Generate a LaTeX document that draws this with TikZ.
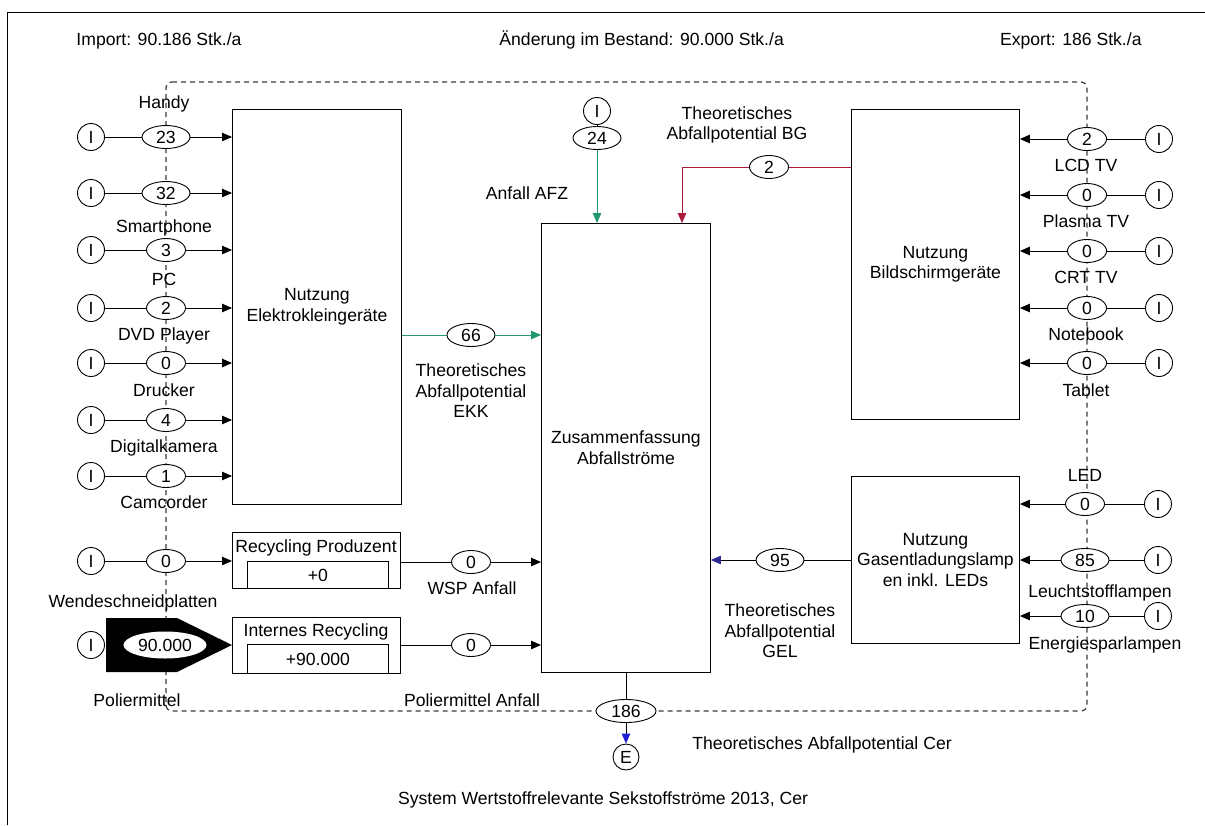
\documentclass[tikz,border=0pt]{standalone}
\usepackage{fontspec}
\setmainfont{Liberation Sans}
\usetikzlibrary{arrows.meta,shapes.geometric}

\definecolor{afzgreen}{RGB}{34,150,108}
\definecolor{bgred}{RGB}{172,26,58}
\definecolor{gelblue}{RGB}{40,40,150}
\definecolor{outblue}{RGB}{30,30,210}
\definecolor{boundgray}{RGB}{60,60,60}

\tikzset{
  ibox/.style={draw, circle, fill=white, minimum size=27, inner sep=0},
  val/.style={draw, ellipse, fill=white, inner sep=1.5, minimum height=23, minimum width=#1},
  val/.default=39,
  procbox/.style={draw, rectangle, fill=white, inner sep=0, anchor=north west, align=center},
  lbl/.style={inner sep=0, text height=12.6, text depth=3.7},
  mlbl/.style={inner sep=0, align=center},
  flow/.style={-{Triangle[length=10,width=8.5]}},
  bound/.style={draw=boundgray, line width=1.2, dash pattern=on 5 off 4, rounded corners=6},
}

\begin{document}
\begin{tikzpicture}[x=1pt, y=-1pt, line width=0.9, font=\fontsize{17.6}{20.5}\selectfont]
\useasboundingbox (0,0) rectangle (1205,825);

% page frame
\draw (7,825) -- (7,12) -- (1205,12);

% headline figures
\node[lbl, anchor=west] (imp) at (76,41) {Import: 90.186 Stk./a};
\node[lbl, anchor=west] (bestand) at (499,41) {Änderung im Bestand: 90.000 Stk./a};
\node[lbl, anchor=east] (exp) at (1142,41) {Export: 186 Stk./a};

% system boundary
\draw[bound] (166,82) -- (1087,82) -- (1087,711) -- (166,711) -- cycle;

% processes
\node[procbox, minimum width=169, minimum height=395] (elek) at (232,109) {Nutzung\\Elektrokleingeräte};
\node[procbox, minimum width=169, minimum height=449] (zus) at (541,223) {Zusammenfassung\\Abfallströme};
\node[procbox, minimum width=168, minimum height=310] (bild) at (851,109) {Nutzung\\Bildschirmgeräte};
\node[procbox, minimum width=168, minimum height=167] (gel) at (851,476) {Nutzung\\Gasentladungslamp\\en inkl. LEDs};

% recycling processes with stock
\node[procbox, minimum width=168, minimum height=56] (recp) at (232,532) {};
\node[lbl] (recpt) at (316,548) {Recycling Produzent};
\node[procbox, minimum width=141, minimum height=27] (recps) at (247,561) {+0};
\node[procbox, minimum width=168, minimum height=56] (reci) at (232,617) {};
\node[lbl] (recit) at (316,632) {Internes Recycling};
\node[procbox, minimum width=141, minimum height=29] (recis) at (247,644) {+90.000};

% imports into Elektrokleingeräte
\foreach \n/\y/\v/\w in {1/137/23/48, 2/193/32/48, 3/250/3/39, 4/308/2/39, 5/363/0/39, 6/420/4/39, 7/476/1/39} {
  \node[ibox] (li\n) at (91,\y) {I};
  \node[val=\w] (lv\n) at (166,\y) {\v};
  \draw (li\n) -- (lv\n);
  \draw[flow] (lv\n) -- (elek.west |- lv\n);
}
\foreach \t/\y in {Handy/104, Smartphone/228, PC/281, DVD Player/336, Drucker/392, Digitalkamera/448, Camcorder/504} {
  \node[lbl] at (164,\y) {\t};
}

% Wendeschneidplatten
\node[ibox] (li8) at (91,561) {I};
\node[val] (lv8) at (166,561) {0};
\draw (li8) -- (lv8);
\draw[flow] (lv8) -- (recp.west |- lv8);
\node[lbl] (wsp) at (133,603) {Wendeschneidplatten};

% Poliermittel
\node[ibox] (li9) at (91,645) {I};
\fill (106,618) -- (177,618) -- (232,645) -- (177,672) -- (106,672) -- cycle;
\node[ellipse, fill=white, inner sep=1.5, minimum width=83, minimum height=27] (lv9) at (165,645) {90.000};
\node[lbl] (pol) at (137,702) {Poliermittel};

% recycling outputs to the summary
\node[val] (vwsp) at (471,562) {0};
\draw (recp.east |- vwsp) -- (vwsp);
\draw[flow] (vwsp) -- (zus.west |- vwsp);
\node[lbl] (wspa) at (472,590) {WSP Anfall};

\node[val] (vpol) at (471,645) {0};
\draw (reci.east |- vpol) -- (vpol);
\draw[flow] (vpol) -- (zus.west |- vpol);
\node[lbl] (pola) at (472,702) {Poliermittel Anfall};

% EKK potential
\node[val=48] (v66) at (471,335) {66};
\draw[afzgreen] (elek.east |- v66) -- (v66);
\draw[flow, afzgreen] (v66) -- (zus.west |- v66);
\node[mlbl] (ekk) at (471,391) {Theoretisches\\Abfallpotential\\EKK};

% AFZ input
\node[ibox] (ti) at (597,111) {I};
\node[val=48] (v24) at (597,138) {24};
\draw (ti) -- (v24);
\draw[flow, afzgreen] (v24) -- (zus.north -| v24);
\node[lbl] (afz) at (527,195) {Anfall AFZ};

% BG potential
\node[val] (v2) at (769,167) {2};
\coordinate (bgk) at (682,167);
\draw[bgred] (bild.west |- v2) -- (v2);
\draw[flow, bgred] (v2) -- (bgk) -- (zus.north -| bgk);
\node[mlbl] (bg) at (737,125) {Theoretisches\\Abfallpotential BG};

% imports into Bildschirmgeräte
\foreach \n/\y/\v in {1/139/2, 2/195/0, 3/251/0, 4/308/0, 5/363/0} {
  \node[ibox] (ri\n) at (1159,\y) {I};
  \node[val] (rv\n) at (1087,\y) {\v};
  \draw (ri\n) -- (rv\n);
  \draw[flow] (rv\n) -- (bild.east |- rv\n);
}
\foreach \t/\y in {LCD TV/167, Plasma TV/223, CRT TV/279, Notebook/336, Tablet/392} {
  \node[lbl] at (1086,\y) {\t};
}

% imports into Gasentladungslampen
\foreach \n/\y/\v/\w in {6/504/0/39, 7/560/85/48, 8/616/10/48} {
  \node[ibox] (ri\n) at (1158,\y) {I};
  \node[val=\w] (rv\n) at (1085,\y) {\v};
  \draw (ri\n) -- (rv\n);
  \draw[flow] (rv\n) -- (gel.east |- rv\n);
}
\node[lbl] (led) at (1085,477) {LED};
\node[lbl] (lsl) at (1100,593) {Leuchtstofflampen};
\node[lbl] (esl) at (1105,645) {Energiesparlampen};

% GEL potential
\node[val=48] (v95) at (780,560) {95};
\draw (gel.west |- v95) -- (v95);
\draw[-{Triangle[length=10,width=8.5,color=gelblue]}] (v95) -- (zus.east |- v95);
\node[mlbl] (gelp) at (780,631) {Theoretisches\\Abfallpotential\\GEL};

% export
\node[val=60] (v186) at (626,711) {186};
\node[ibox, minimum size=26] (ex) at (626,757) {E};
\draw (zus.south -| v186) -- (v186);
\draw[-{Triangle[length=10,width=8.5,color=outblue]}] (v186) -- (ex);
\node[lbl, anchor=west] (cer) at (692,745) {Theoretisches Abfallpotential Cer};

% caption
\node[lbl] (cap) at (603,800) {System Wertstoffrelevante Sekstoffströme 2013, Cer};
\end{tikzpicture}
\end{document}
